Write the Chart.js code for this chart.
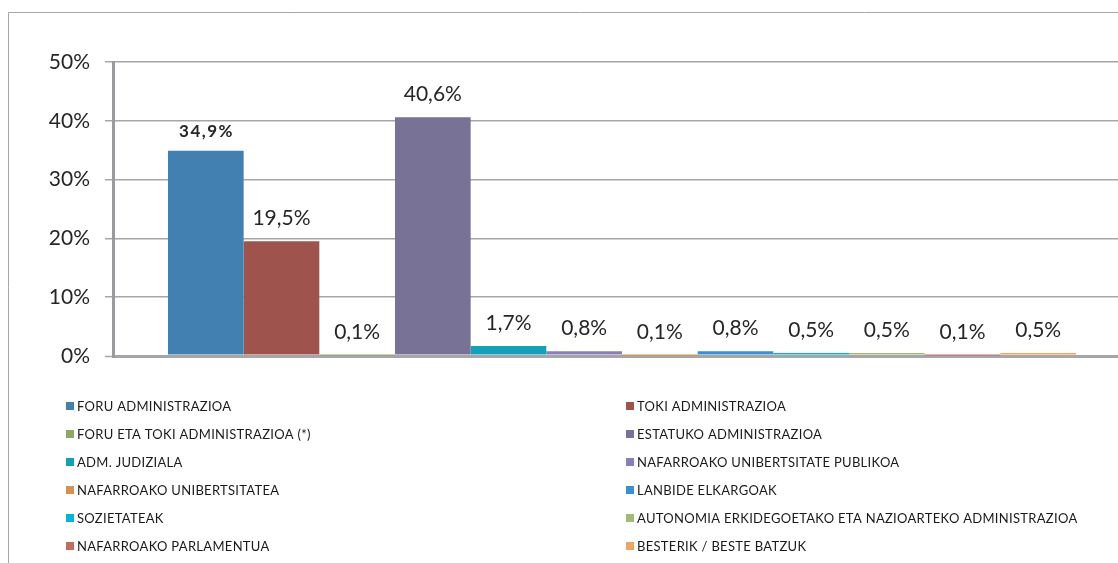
<!DOCTYPE html>
<html><head><meta charset="utf-8">
<script src="https://cdn.jsdelivr.net/npm/chart.js@4"></script>
<style>
html,body{margin:0;padding:0;background:#fff;overflow:hidden;width:1118px;height:563px;}
#wrap{position:absolute;left:0;top:0;width:1150px;height:563px;}
</style></head><body>
<div id="wrap"><canvas id="c"></canvas></div>
<script>
const categories = [''];
const seriesNames = [
  'FORU ADMINISTRAZIOA',
  'TOKI ADMINISTRAZIOA',
  'FORU ETA TOKI ADMINISTRAZIOA (*)',
  'ESTATUKO ADMINISTRAZIOA',
  'ADM. JUDIZIALA',
  'NAFARROAKO UNIBERTSITATE PUBLIKOA',
  'NAFARROAKO UNIBERTSITATEA',
  'LANBIDE ELKARGOAK',
  'SOZIETATEAK',
  'AUTONOMIA ERKIDEGOETAKO ETA NAZIOARTEKO ADMINISTRAZIOA',
  'NAFARROAKO PARLAMENTUA',
  'BESTERIK / BESTE BATZUK'
];
const seriesValues = [34.9, 19.5, 0.1, 40.6, 1.7, 0.8, 0.1, 0.8, 0.5, 0.5, 0.1, 0.5];
const seriesColors = ['#4180b1','#9f534d','#8ea766','#787297','#14a0b9','#8a7eb7','#d49153','#3f8fd0','#06b5d2','#a3ba77','#c46b60','#f0a462'];
const yTicks = [0, 10, 20, 30, 40, 50];
const yTickLabels = ['0%', '10%', '20%', '30%', '40%', '50%'];

const frame = {
  id: 'frame',
  beforeDraw(chart) {
    const ctx = chart.ctx;
    ctx.save();
    ctx.strokeStyle = '#a6a6a6';
    ctx.lineWidth = 1;
    ctx.beginPath();
    ctx.moveTo(8.5, chart.height);
    ctx.lineTo(8.5, 12.5);
    ctx.lineTo(chart.width, 12.5);
    ctx.stroke();
    ctx.restore();
  }
};

const valueLabels = {
  id: 'valueLabels',
  afterDatasetsDraw(chart, args, opts) {
    const ctx = chart.ctx;
    ctx.save();
    ctx.fillStyle = '#262626';
    ctx.textAlign = 'center';
    ctx.textBaseline = 'middle';
    chart.data.datasets.forEach((ds, i) => {
      const meta = chart.getDatasetMeta(i);
      meta.data.forEach((bar, j) => {
        const v = ds.data[j];
        const bold = i === opts.boldIndex;
        ctx.font = bold ? 'bold 17px Lato' : '21px Lato';
        ctx.letterSpacing = bold ? '1.5px' : '0px';
        const txt = v.toFixed(1).replace('.', ',') + '%';
        ctx.fillText(txt, bar.x + (bold ? 0.75 : 0), bar.y - (bold ? 19 : 23));
      });
    });
    ctx.restore();
  }
};

const sideLegend = {
  id: 'sideLegend',
  afterDraw(chart, args, opts) {
    const ctx = chart.ctx;
    ctx.save();
    ctx.textAlign = 'left';
    ctx.textBaseline = 'middle';
    ctx.font = '13px Lato';
    ctx.letterSpacing = '0.3px';
    chart.data.datasets.forEach((ds, k) => {
      const col = k % 2, row = Math.floor(k / 2);
      const x = opts.colX[col];
      const y = opts.top + row * opts.rowH;
      ctx.fillStyle = ds.backgroundColor;
      ctx.fillRect(x, y - 4, 8, 8);
      ctx.fillStyle = '#1a1a1a';
      ctx.fillText(ds.label, x + 11, y + 0.5);
    });
    ctx.restore();
  }
};

new Chart(document.getElementById('c'), {
  type: 'bar',
  data: {
    labels: categories,
    datasets: seriesNames.map((n, i) => ({
      label: n,
      data: [seriesValues[i]],
      backgroundColor: seriesColors[i],
      borderWidth: 0
    }))
  },
  options: {
    responsive: true,
    maintainAspectRatio: false,
    animation: false,
    layout: { padding: { left: 0, right: 19, top: 62, bottom: 207 } },
    datasets: { bar: { categoryPercentage: 0.892, barPercentage: 1 } },
    plugins: {
      legend: { display: false },
      tooltip: { enabled: false },
      valueLabels: { boldIndex: 0 },
      sideLegend: { colX: [66, 626], top: 406, rowH: 28 }
    },
    scales: {
      x: { display: false },
      y: {
        min: 0, max: 50,
        afterBuildTicks: s => { s.ticks = yTicks.map(v => ({ value: v })); },
        afterFit: s => { s.width = 113; },
        ticks: {
          padding: 15,
          color: '#262626',
          font: { family: 'Lato', size: 21 },
          callback: v => yTickLabels[yTicks.indexOf(v)]
        },
        grid: {
          color: '#a6a6a6',
          lineWidth: c => (c.tick && c.tick.value === 0) ? 3 : 1.5,
          tickLength: 8,
          tickWidth: 1.5,
          tickColor: '#a6a6a6'
        },
        border: { display: true, color: '#9b9b9f', width: 3 }
      }
    }
  },
  plugins: [frame, valueLabels, sideLegend]
});
</script>
</body></html>
